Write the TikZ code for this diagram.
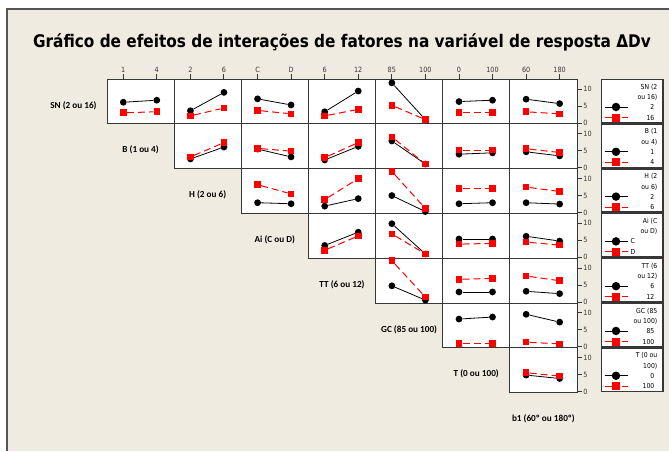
\documentclass[tikz,border=0pt]{standalone}
\usepackage{fontspec}
\newfontfamily\titlefont[FakeStretch=0.88]{DejaVu Sans}
\newfontfamily\rowfont{Carlito}
\newfontfamily\tickfont[FakeStretch=0.9]{DejaVu Sans}
\usetikzlibrary{calc, positioning}
\definecolor{paper}{RGB}{239,235,225}
\definecolor{frameg}{RGB}{85,85,85}
\definecolor{boxg}{RGB}{55,55,55}

\begin{document}
\begin{tikzpicture}[x=1pt, y=-1pt,
      cellbox/.style={rectangle, draw=boxg, fill=white, line width=0.9pt, inner sep=0pt, outer sep=0pt, minimum width=67.14pt, minimum height=44.79pt},
      legbox/.style={rectangle, draw=boxg, fill=white, line width=1.6pt, inner sep=0pt, outer sep=0pt, minimum width=61.5pt, minimum height=43.3pt},
      bdot/.style={circle, fill=black, inner sep=0pt, minimum size=6.8pt},
      rsq/.style={rectangle, fill=red, inner sep=0pt, minimum size=6.6pt},
      bline/.style={black, line width=0.8pt},
      rline/.style={red, line width=1pt, dash pattern=on 7pt off 4pt},
      axisline/.style={boxg, line width=0.9pt},
      titletext/.style={font=\titlefont\bfseries\fontsize{17.4}{20}\selectfont},
      rowlabel/.style={font=\rowfont\bfseries\fontsize{9.2}{10}\selectfont},
      ticklabel/.style={font=\tickfont\fontsize{7.2}{8}\selectfont, inner sep=1pt},
      leglabel/.style={font=\tickfont\fontsize{6.8}{7}\selectfont, inner sep=0pt},
      ]
      %Background
      \useasboundingbox (0,0) rectangle (669,451);
      \fill[paper] (7,9) rectangle (669,451);
      \draw[frameg, line width=1.2pt] (7,451) -- (7,9) -- (669,9);

      %Title
      \node[titletext] (title) at (342,42) {Gráfico de efeitos de interações de fatores na variável de resposta ΔDv};

      %Cells
      \foreach \i in {0,...,6}{
        \foreach \j in {\i,...,6}{
          \node[cellbox, anchor=north west] (cell-\i-\j) at ({107+67.14*\j},{79+44.79*\i}) {};
        }
      }

      %Points and lines
      \foreach \i/\j/\ba/\bb/\ra/\rb in {
          0/0/6.1/6.7/3.0/3.3, 0/1/3.6/9.0/2.1/4.4, 0/2/7.1/5.3/3.7/2.7, 0/3/3.3/9.4/2.1/4.0,
          0/4/11.8/1.0/5.2/1.0, 0/5/6.3/6.7/3.0/3.0, 0/6/7.0/5.7/3.3/2.7,
          1/1/2.6/6.1/3.2/7.4, 1/2/5.5/3.2/5.7/4.9, 1/3/2.3/6.3/3.0/7.4, 1/4/7.9/1.1/9.1/1.1,
          1/5/4.0/4.4/5.2/5.2, 1/6/4.7/3.5/5.6/4.5,
          2/2/2.9/2.6/8.2/5.5, 2/3/1.9/4.1/3.8/10.0, 2/4/5.0/0.3/12.1/1.2, 2/5/2.6/2.9/7.0/7.0,
          2/6/2.9/2.5/7.5/6.2,
          3/3/3.5/7.4/2.1/6.3, 3/4/9.9/1.0/6.9/1.0, 3/5/5.4/5.4/3.9/4.1, 3/6/6.2/4.8/4.5/3.6,
          4/4/4.8/0.6/12.2/1.5, 4/5/3.0/3.0/6.7/7.0, 4/6/3.2/2.5/7.7/6.3,
          5/5/8.2/8.8/1.0/1.0, 5/6/9.6/7.3/1.4/0.9,
          6/6/4.9/3.9/5.6/4.6}{
        \node[bdot] (bk-\i-\j-a) at ($(cell-\i-\j.south west)+(16.3,{-0.8-3.4*\ba})$) {};
        \node[bdot] (bk-\i-\j-b) at ($(cell-\i-\j.south west)+(49.8,{-0.8-3.4*\bb})$) {};
        \draw[bline] (bk-\i-\j-a) -- (bk-\i-\j-b);
        \node[rsq] (rd-\i-\j-a) at ($(cell-\i-\j.south west)+(16.3,{-0.8-3.4*\ra})$) {};
        \node[rsq] (rd-\i-\j-b) at ($(cell-\i-\j.south west)+(49.8,{-0.8-3.4*\rb})$) {};
        \draw[rline] (rd-\i-\j-a) -- (rd-\i-\j-b);
      }

      %Right axis
      \draw[axisline] (cell-0-6.north east) -- (cell-6-6.south east);
      \foreach \i in {0,...,6}{
        \foreach \v in {0,5,10}{
          \draw[axisline] ($(cell-\i-6.south east)+(0,{-0.8-3.4*\v})$) -- ++(5,0) node[right, ticklabel] {\v};
        }
      }

      %Top axis
      \foreach \j/\la/\lb in {0/1/4, 1/2/6, 2/C/D, 3/6/12, 4/85/100, 5/0/100, 6/60/180}{
        \draw[axisline] ($(cell-0-\j.north west)+(16.3,0)$) -- ++(0,-5) node[above, ticklabel] {\la};
        \draw[axisline] ($(cell-0-\j.north west)+(49.8,0)$) -- ++(0,-5) node[above, ticklabel] {\lb};
      }

      %Row labels
      \foreach \i/\txt in {0/SN (2 ou 16), 1/B (1 ou 4), 2/H (2 ou 6), 3/Ai (C ou D),
          4/TT (6 ou 12), 5/GC (85 ou 100), 6/T (0 ou 100), 7/b1 (60º ou 180º)}{
        \node[rowlabel] (row-\i) at ({107+67.14*(\i-1)+33.57},{79+44.79*\i+26.4}) {\txt};
      }

      %Legends
      \foreach \i/\ta/\tb/\ea/\eb/\an/\dx in {0/{SN (2}/{ou 16)}/2/16/east/53, 1/{B (1}/{ou 4)}/1/4/east/53,
          2/{H (2}/{ou 6)}/2/6/east/53, 3/{Ai (C}/{ou D)}/C/D/west/29, 4/{TT (6}/{ou 12)}/6/12/east/53,
          5/{GC (85}/{ou 100)}/85/100/east/53, 6/{T (0 ou}/{100)}/0/100/east/53}{
        \node[legbox, anchor=north west] (leg-\i) at (601.5,{79.3+44.79*\i}) {};
        \node[leglabel, anchor=east] (lt-\i-a) at ($(leg-\i.north west)+(56,7.7)$) {\ta};
        \node[leglabel, anchor=east] (lt-\i-b) at ($(leg-\i.north west)+(56,18)$) {\tb};
        \coordinate (lk-\i-a) at ($(leg-\i.north west)+(3,27.7)$);
        \coordinate (lk-\i-b) at ($(leg-\i.north west)+(3,38.3)$);
        \draw[bline] (lk-\i-a) -- ++(23,0);
        \node[bdot, minimum size=8.5pt] (lm-\i-a) at ($(lk-\i-a)+(11.5,0)$) {};
        \draw[rline, dash pattern=on 14pt off 3pt on 6pt] (lk-\i-b) -- ++(23,0);
        \node[rsq, minimum size=8pt] (lm-\i-b) at ($(lk-\i-b)+(11.5,0)$) {};
        \node[leglabel, anchor=\an] (le-\i-a) at ($(leg-\i.north west)+(\dx,27.7)$) {\ea};
        \node[leglabel, anchor=\an] (le-\i-b) at ($(leg-\i.north west)+(\dx,38.3)$) {\eb};
      }
    \end{tikzpicture}
\end{document}
